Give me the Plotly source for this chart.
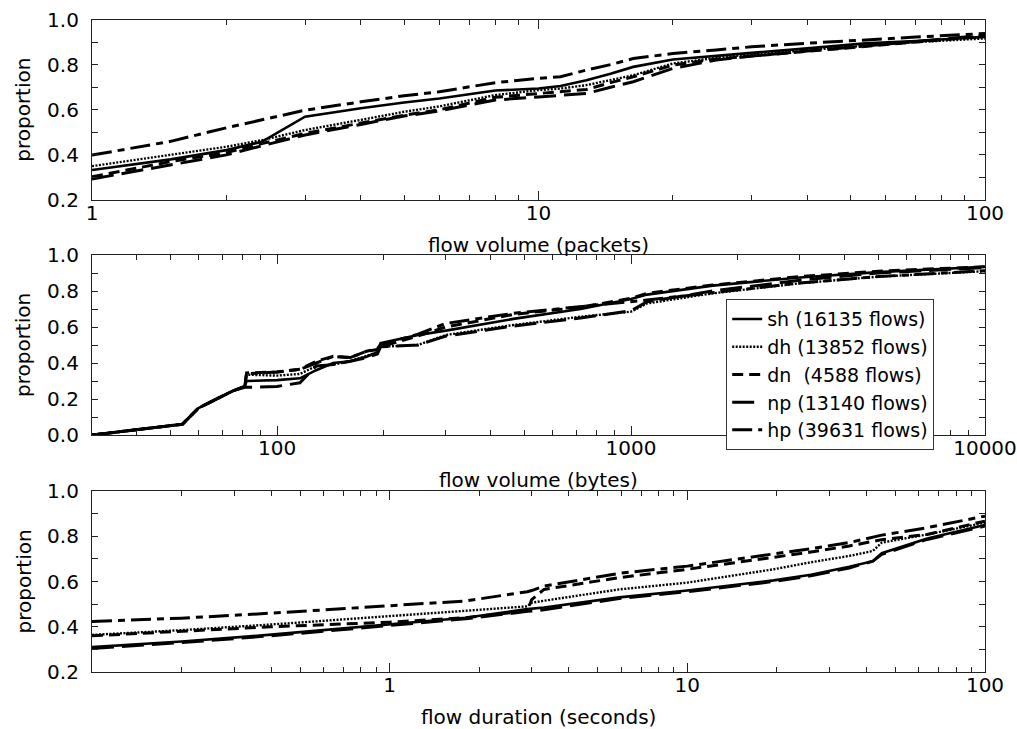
import plotly.graph_objects as go

# ---- flow volume in packets ----
pkt_x = [1, 1.5, 2, 2.4, 3, 4, 5, 6, 8, 10, 11.2, 12.8, 14.5, 16.3, 20, 25, 30, 40, 54, 70, 100]
pkt_sh = [0.333, 0.38, 0.421, 0.458, 0.569, 0.607, 0.632, 0.65, 0.685, 0.694, 0.705, 0.731, 0.76, 0.79, 0.823, 0.84, 0.852, 0.872, 0.894, 0.905, 0.923]
pkt_dh = [0.35, 0.40, 0.436, 0.465, 0.51, 0.555, 0.591, 0.615, 0.665, 0.687, 0.694, 0.709, 0.73, 0.753, 0.805, 0.83, 0.846, 0.865, 0.886, 0.90, 0.916]
pkt_dn = [0.303, 0.37, 0.41, 0.45, 0.495, 0.54, 0.576, 0.60, 0.655, 0.672, 0.68, 0.69, 0.72, 0.746, 0.798, 0.825, 0.838, 0.86, 0.882, 0.90, 0.926]
pkt_np = [0.293, 0.355, 0.40, 0.44, 0.488, 0.535, 0.572, 0.595, 0.643, 0.657, 0.665, 0.672, 0.70, 0.724, 0.783, 0.82, 0.838, 0.86, 0.882, 0.90, 0.93]
pkt_hp = [0.399, 0.46, 0.52, 0.555, 0.598, 0.635, 0.662, 0.68, 0.72, 0.739, 0.746, 0.776, 0.80, 0.827, 0.849, 0.865, 0.879, 0.895, 0.911, 0.922, 0.938]

# ---- flow volume in bytes ----
byte_x = [30, 40, 50, 54, 60, 65, 70, 75, 81, 82, 100, 116, 129, 144, 161, 179, 192, 196, 250, 300, 465, 720, 1000, 1110, 1700, 3000, 5000, 10000]
byte_sh = [0.0, 0.03, 0.05, 0.06, 0.15, 0.185, 0.215, 0.245, 0.27, 0.30, 0.305, 0.315, 0.36, 0.40, 0.41, 0.435, 0.46, 0.51, 0.556, 0.58, 0.645, 0.70, 0.755, 0.78, 0.83, 0.875, 0.905, 0.935]
byte_dh = [0.0, 0.03, 0.05, 0.06, 0.15, 0.185, 0.215, 0.245, 0.27, 0.335, 0.33, 0.339, 0.383, 0.391, 0.41, 0.44, 0.46, 0.49, 0.50, 0.556, 0.611, 0.657, 0.685, 0.731, 0.787, 0.843, 0.88, 0.91]
byte_dn = [0.0, 0.03, 0.05, 0.06, 0.15, 0.185, 0.215, 0.245, 0.27, 0.345, 0.35, 0.365, 0.41, 0.437, 0.43, 0.465, 0.475, 0.49, 0.55, 0.60, 0.67, 0.71, 0.76, 0.787, 0.833, 0.88, 0.91, 0.935]
byte_np = [0.0, 0.03, 0.05, 0.06, 0.15, 0.185, 0.215, 0.245, 0.265, 0.265, 0.27, 0.29, 0.383, 0.391, 0.41, 0.43, 0.45, 0.49, 0.50, 0.55, 0.605, 0.65, 0.69, 0.74, 0.80, 0.86, 0.90, 0.93]
byte_hp = [0.0, 0.03, 0.05, 0.06, 0.15, 0.185, 0.215, 0.245, 0.27, 0.34, 0.35, 0.365, 0.40, 0.437, 0.43, 0.465, 0.48, 0.50, 0.56, 0.62, 0.676, 0.713, 0.74, 0.75, 0.79, 0.845, 0.88, 0.913]

# ---- flow duration in seconds ----
dur_x = [0.1, 0.2, 0.4, 1, 1.8, 2.9, 3.0, 3.3, 5.9, 10, 19.5, 26, 35, 42, 45, 64, 100]
dur_sh = [0.31, 0.335, 0.365, 0.41, 0.44, 0.478, 0.48, 0.485, 0.53, 0.56, 0.605, 0.63, 0.665, 0.69, 0.725, 0.79, 0.85]
dur_dh = [0.364, 0.385, 0.41, 0.448, 0.47, 0.49, 0.506, 0.515, 0.565, 0.595, 0.654, 0.685, 0.713, 0.735, 0.772, 0.808, 0.86]
dur_dn = [0.36, 0.38, 0.40, 0.42, 0.44, 0.47, 0.52, 0.565, 0.617, 0.654, 0.705, 0.73, 0.757, 0.775, 0.785, 0.808, 0.867]
dur_np = [0.304, 0.33, 0.36, 0.405, 0.435, 0.468, 0.47, 0.475, 0.525, 0.555, 0.60, 0.625, 0.66, 0.69, 0.72, 0.786, 0.845]
dur_hp = [0.423, 0.438, 0.46, 0.494, 0.514, 0.555, 0.56, 0.58, 0.636, 0.668, 0.72, 0.745, 0.772, 0.795, 0.805, 0.838, 0.889]

series_names = ["sh", "dh", "dn", "np", "hp"]
legend_labels = ["sh (16135 flows)", "dh (13852 flows)", "dn\u00a0\u00a0(4588 flows)",
                 "np (13140 flows)", "hp (39631 flows)"]

pkt_ticks = [1, 10, 100]
byte_ticks = [100, 1000, 10000]
dur_ticks = [0.1, 1, 10, 100]
dur_ticktext = ["", "1", "10", "100"]

x_titles = ["flow volume (packets)", "flow volume (bytes)", "flow duration (seconds)"]
y_title = "proportion"

FONT = "DejaVu Sans, Liberation Sans, Arial, sans-serif"
FS = 20
W, H = 1017, 729
AXC = "#222222"

line_styles = {
    "sh": dict(color="black", width=2.6, dash="solid"),
    "dh": dict(color="black", width=2.4, dash="2px,1.5px"),
    "dn": dict(color="black", width=3, dash="11px,6px"),
    "np": dict(color="black", width=3, dash="22px,8px"),
    "hp": dict(color="black", width=3, dash="20px,6px,7px,6px"),
}

panels = [
    (pkt_x, [pkt_sh, pkt_dh, pkt_dn, pkt_np, pkt_hp]),
    (byte_x, [byte_sh, byte_dh, byte_dn, byte_np, byte_hp]),
    (dur_x, [dur_sh, dur_dh, dur_dn, dur_np, dur_hp]),
]

# pixel frames of the three plot areas (top, bottom)
x_left, x_right = 92, 985
frames = [(19.5, 200), (255, 435), (491, 672)]

fig = go.Figure()
for p, (xs, ys_list) in enumerate(panels):
    ax = "" if p == 0 else str(p + 1)
    for name, label, ys in zip(series_names, legend_labels, ys_list):
        fig.add_trace(go.Scatter(
            x=xs, y=ys, mode="lines", name=label,
            line=line_styles[name],
            xaxis="x" + ax, yaxis="y" + ax,
            showlegend=(p == 1),
        ))


def minor_vals(lo_exp, hi_exp):
    return [m * 10.0 ** k for k in range(lo_exp, hi_exp) for m in range(2, 10)]


x_specs = [
    dict(range=[0, 2], tickvals=pkt_ticks, ticktext=[str(v) for v in pkt_ticks], minor=minor_vals(0, 2)),
    dict(range=[1.4771, 4], tickvals=byte_ticks, ticktext=[str(v) for v in byte_ticks], minor=minor_vals(1, 4)),
    dict(range=[-1, 2], tickvals=dur_ticks, ticktext=dur_ticktext, minor=minor_vals(-1, 2)),
]
y_ranges = [[0.2, 1.0], [0.0, 1.0], [0.2, 1.0]]

layout = dict(
    width=W, height=H, autosize=False,
    margin=dict(l=0, r=0, t=0, b=0, autoexpand=False),
    paper_bgcolor="white", plot_bgcolor="white",
    font=dict(family=FONT, size=FS, color="black"),
    legend=dict(
        x=726 / W, y=1 - 299 / H, xanchor="left", yanchor="top",
        bgcolor="white", bordercolor="#333333", borderwidth=1.2,
        font=dict(family=FONT, size=19, color="black"),
        tracegroupgap=0,
    ),
    annotations=[],
)

for p in range(3):
    ax = "" if p == 0 else str(p + 1)
    top, bottom = frames[p]
    xs = x_specs[p]
    layout["xaxis" + ax] = dict(
        type="log", domain=[x_left / W, x_right / W], anchor="y" + ax,
        range=xs["range"], tickmode="array", tickvals=xs["tickvals"], ticktext=xs["ticktext"],
        ticks="inside", ticklen=9, tickwidth=1, tickcolor=AXC,
        minor=dict(tickmode="array", tickvals=xs["minor"], ticks="inside", ticklen=5,
                   tickwidth=1, tickcolor=AXC, showgrid=False),
        showline=True, linecolor=AXC, linewidth=1.2, mirror="allticks",
        showgrid=False, zeroline=False, automargin=False,
        ticklabelstandoff=-5,
        tickfont=dict(family=FONT, size=FS, color="black"),
    )
    layout["yaxis" + ax] = dict(
        domain=[1 - bottom / H, 1 - top / H], anchor="x" + ax,
        range=y_ranges[p], dtick=0.2, tick0=0, tickformat=".1f",
        ticks="inside", ticklen=6, tickwidth=1, tickcolor=AXC,
        minor=dict(dtick=0.1, ticks="inside", ticklen=6, tickwidth=1,
                   tickcolor=AXC, showgrid=False),
        showline=True, linecolor=AXC, linewidth=1.2, mirror="allticks",
        showgrid=False, zeroline=False, automargin=False,
        ticklabelstandoff=8,
        tickfont=dict(family=FONT, size=FS, color="black"),
    )
    # axis titles
    layout["annotations"].append(dict(
        text=x_titles[p], xref="paper", yref="paper",
        x=(x_left + x_right) / 2 / W, y=1 - (bottom + 45) / H,
        xanchor="center", yanchor="middle", showarrow=False,
        font=dict(family=FONT, size=FS, color="black"),
    ))
    layout["annotations"].append(dict(
        text=y_title, xref="paper", yref="paper", textangle=-90,
        x=23 / W, y=1 - (top + bottom) / 2 / H,
        xanchor="center", yanchor="middle", showarrow=False,
        font=dict(family=FONT, size=FS, color="black"),
    ))

fig.update_layout(**layout)
fig.write_html("out.html")
